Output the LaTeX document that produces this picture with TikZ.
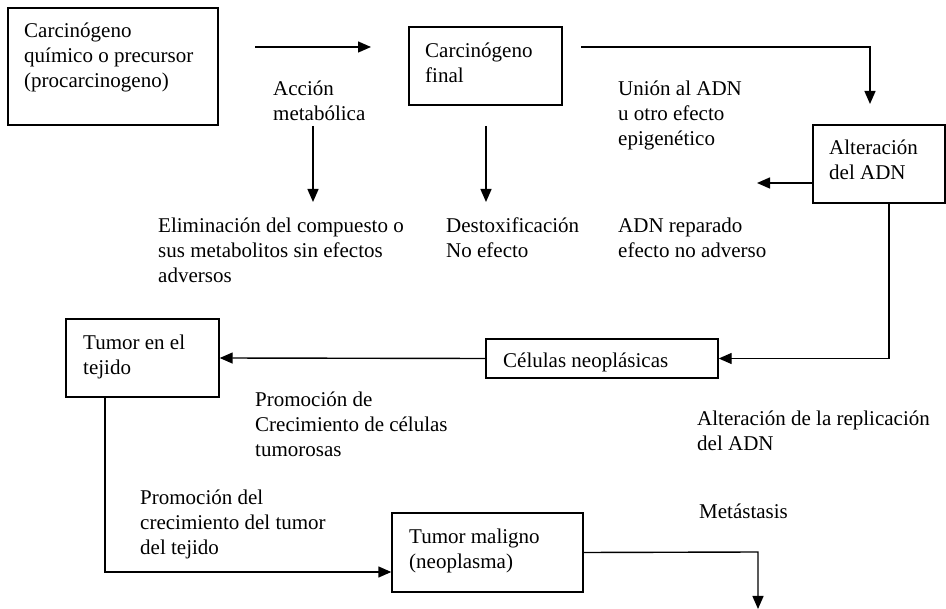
\documentclass[tikz,border=0pt]{standalone}
\usepackage{fontspec}
\setmainfont{Liberation Serif}
\usetikzlibrary{arrows.meta}
\tikzset{
  box/.style={draw, line width=1.4pt, inner sep=0pt},
  lbl/.style={anchor=north west, inner sep=0pt, align=left, font=\fontsize{21}{25}\selectfont},
  conn/.style={line width=1.4pt, -{Triangle[length=13pt,width=11pt]}}
}
\begin{document}
\begin{tikzpicture}[x=1pt,y=-1pt]
\useasboundingbox (0,0) rectangle (946,609);
% boxes
\node[box, minimum width=210pt, minimum height=117pt] (b1) at (113,66.5) {};
\node[box, minimum width=153pt, minimum height=78pt] (b2) at (485.5,66) {};
\node[box, minimum width=132pt, minimum height=78pt] (b3) at (879,164) {};
\node[box, minimum width=232pt, minimum height=39pt] (b4) at (602,358.5) {};
\node[box, minimum width=153pt, minimum height=78pt] (b5) at (142.5,358) {};
\node[box, minimum width=191pt, minimum height=79pt] (b6) at (487.5,552.5) {};
% box texts
\node[lbl] (t1) at (24,19.5) {\strut Carcinógeno\\químico o precursor\\(procarcinogeno)};
\node[lbl] (t2) at (425,39.5) {\strut Carcinógeno\\final};
\node[lbl] (t3) at (829,136.5) {\strut Alteración\\del ADN};
\node[lbl] (t4) at (503,349.5) {\strut Células neoplásicas};
\node[lbl] (t5) at (83,331.5) {\strut Tumor en el\\tejido};
\node[lbl] (t6) at (409,525.5) {\strut Tumor maligno\\(neoplasma)};
% free labels
\node[lbl] (l1) at (273,77.5) {\strut Acción\\metabólica};
\node[lbl] (l2) at (158,214.5) {\strut Eliminación del compuesto o\\sus metabolitos sin efectos\\adversos};
\node[lbl] (l3) at (446,214.5) {\strut Destoxificación\\No efecto};
\node[lbl] (l4) at (618,77.5) {\strut Unión al ADN\\u otro efecto\\epigenético};
\node[lbl] (l5) at (618,214.5) {\strut ADN reparado\\efecto no adverso};
\node[lbl] (l6) at (255,388.5) {\strut Promoción de\\Crecimiento de células\\tumorosas};
\node[lbl] (l7) at (697,407.5) {\strut Alteración de la replicación\\del ADN};
\node[lbl] (l8) at (140,486.5) {\strut Promoción del\\crecimiento del tumor\\del tejido};
\node[lbl] (l9) at (699,500.5) {\strut Metástasis};
% free coordinates
\coordinate (a1s) at (255,47);
\coordinate (a1e) at (371,47);
\coordinate (a2s) at (581,47);
\coordinate (a2c) at (870,47);
\coordinate (a2e) at (870,104);
\coordinate (a3s) at (313,126);
\coordinate (a3e) at (313,202);
\coordinate (a4s) at (486,126);
\coordinate (a4e) at (486,202);
\coordinate (a5e) at (757,183);
\coordinate (a9c) at (758,552);
\coordinate (a9e) at (758,609);
% connectors
\draw[conn] (a1s) -- (a1e);
\draw[conn] (a2s) -- (a2c) -- (a2e);
\draw[conn] (a3s) -- (a3e);
\draw[conn] (a4s) -- (a4e);
\draw[conn] (b3.west |- a5e) -- (a5e);
\draw[conn] (b3.south -| 889,0) -- (889,358.5) -- (b4.east);
\draw[conn] (b4.west) -- (b5.east);
\draw[conn] (b5.south -| 105,0) -- (105,572) -- (b6.west |- 0,572);
\draw[conn] (b6.east) -- (a9c) -- (a9e);
\end{tikzpicture}
\end{document}
